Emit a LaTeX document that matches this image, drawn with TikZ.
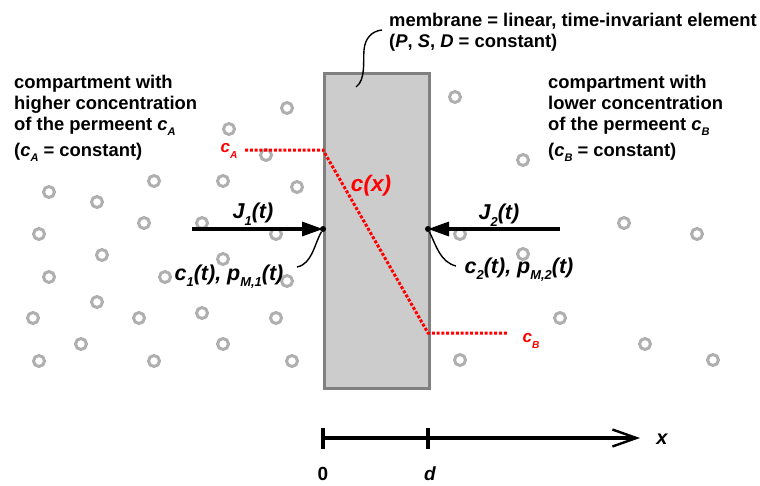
\documentclass[tikz,border=0pt]{standalone}
\usepackage{fontspec}
\setmainfont{Liberation Sans}
\usepackage{graphicx}
\usetikzlibrary{arrows.meta}
\definecolor{circ}{RGB}{175,175,175}
\definecolor{memfill}{RGB}{204,204,204}
\definecolor{memdraw}{RGB}{128,128,128}
\newcommand\lsub[1]{\raisebox{-0.32em}{\scalebox{0.6}{#1}}}
\begin{document}
\begin{tikzpicture}[x=1pt,y=-1pt,
  dotc/.style={circle, draw=circ, line width=3pt, minimum size=11pt, inner sep=0pt},
  txt/.style={anchor=base west, inner sep=0pt, font=\fontsize{18.4}{21}\selectfont\bfseries},
  lbl/.style={inner sep=0pt, font=\fontsize{21.5}{24}\selectfont\bfseries\itshape},
  redl/.style={red, dash pattern=on 3pt off 1.8pt, line width=3pt},
  flux/.style={line width=3.2pt, -{Triangle[length=21pt,width=14pt]}},
  lead/.style={line width=1.4pt},
  pin/.style={circle, fill=black, inner sep=0pt, minimum size=6pt}
]
\useasboundingbox (0,0) rectangle (760,485);
% particles
\foreach \px/\py [count=\i] in {287/108,229/129,266/155,154/181,223/181,297/187,49/192,97/202,144/223,202/223,39/234,276/234,102/255,223/259,49/277,165/277,287/281,97/302,33/318,139/318,202/313,276/318,81/344,223/344,39/361,154/361,292/361,
455/97,523/160,624/223,697/234,460/234,523/254,560/318,645/344,460/360,713/360}
  \node[dotc] (p\i) at (\px,\py) {};
% membrane
\node[draw=memdraw, fill=memfill, line width=3.4pt, minimum width=105pt, minimum height=315pt, inner sep=0pt, anchor=north west] (mem) at (323,72) {};
% texts
\node[txt] (l1) at (14,88) {compartment with};
\node[txt] (l2) at (14,109) {higher concentration};
\node[txt] (l3) at (14,130) {of the permeent \textit{c}\lsub{\textit{A}}};
\node[txt] (l4) at (14,156) {(\textit{c}\lsub{\textit{A}} = constant)};
\node[txt] (r1) at (548,88) {compartment with};
\node[txt] (r2) at (548,109) {lower concentration};
\node[txt] (r3) at (548,130) {of the permeent \textit{c}\lsub{\textit{B}}};
\node[txt] (r4) at (548,156) {(\textit{c}\lsub{\textit{B}} = constant)};
\node[txt] (m1) at (389,26) {membrane = linear, time-invariant element};
\node[txt] (m2) at (389,47) {(\textit{P}, \textit{S}, \textit{D} = constant)};
% membrane leader
\coordinate (mlead) at (356,87);
\coordinate (mtext) at (382,30);
\draw[lead] (mlead) .. controls (366,80) and (363,60) .. (364,50) .. controls (365,38) and (372,31) .. (mtext);
% concentration profile
\coordinate (cas) at (245,150);
\coordinate (ca1) at (323,150);
\coordinate (cb1) at (428,333);
\coordinate (cbe) at (507,333);
\draw[redl] (cas) -- (ca1) -- (cb1) -- (cbe);
\node[red, inner sep=0pt, font=\fontsize{17}{19}\selectfont\bfseries\itshape] (cA) at (229,151) {c\lsub{A}};
\node[red, inner sep=0pt, font=\fontsize{17}{19}\selectfont\bfseries\itshape] (cB) at (531,341) {c\lsub{B}};
\node[lbl, red, font=\fontsize{22.5}{24}\selectfont\bfseries\itshape] (cx) at (371,186) {c(x)};
% fluxes
\node[pin] (pin1) at (323,229) {};
\node[pin] (pin2) at (428,229) {};
\coordinate (j1s) at (192,229);
\coordinate (j2s) at (560,229);
\draw[flux] (j1s) -- (pin1.center);
\draw[flux] (j2s) -- (pin2.center);
\node[lbl] (J1) at (253,214) {J\lsub{1}(t)};
\node[lbl] (J2) at (499,215) {J\lsub{2}(t)};
\node[lbl, anchor=base] (c1) at (229,280) {c\lsub{1}(t), p\lsub{M,1}(t)};
\node[lbl, anchor=base] (c2) at (519,273) {c\lsub{2}(t), p\lsub{M,2}(t)};
\coordinate (c1l) at (297,267);
\coordinate (c2l) at (456,266);
\draw[lead] (c1l) .. controls (312,264) and (314,245) .. (pin1);
\draw[lead] (c2l) .. controls (440,262) and (436,245) .. (pin2);
% axis
\coordinate (ax0) at (323,438);
\coordinate (axd) at (428,438);
\coordinate (axe) at (640,438);
\draw[line width=3.2pt, -{Straight Barb[length=24pt,width=17pt,line width=2.4pt]}] (ax0) -- (axe);
\draw[line width=3.2pt] (ax0) ++(0,-10) -- ++(0,21);
\draw[line width=3.2pt] (axd) ++(0,-10) -- ++(0,21);
\node[inner sep=0pt, font=\fontsize{19}{22}\selectfont\bfseries] (n0) at (323,474) {0};
\node[inner sep=0pt, font=\fontsize{19}{22}\selectfont\bfseries\itshape] (nd) at (430,474) {d};
\node[inner sep=0pt, font=\fontsize{20}{22}\selectfont\bfseries\itshape] (nx) at (662,439) {x};
\end{tikzpicture}
\end{document}
